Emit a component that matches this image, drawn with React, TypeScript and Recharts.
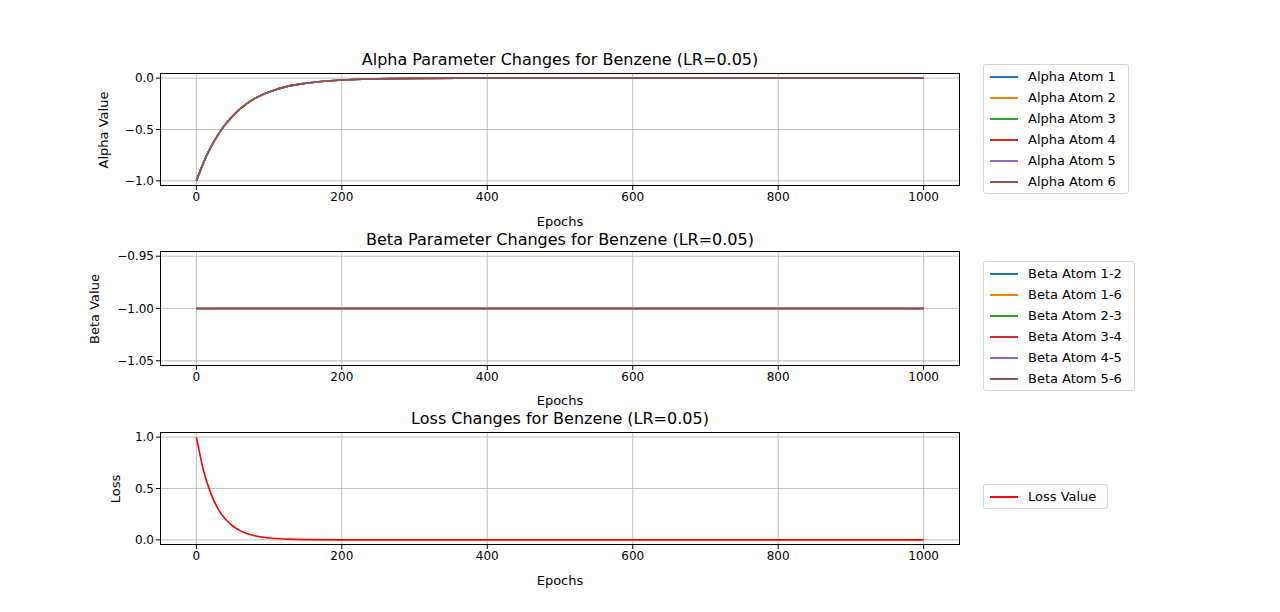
import React from "react";
import { CartesianGrid, Line, LineChart, XAxis, YAxis } from "recharts";

const epochs = [0, 10, 20, 30, 40, 50, 60, 80, 100, 125, 150, 200, 250, 300, 400, 500, 600, 700, 800, 900, 1000];
const alphaValues = [-1, -0.82, -0.67, -0.55, -0.45, -0.37, -0.3, -0.2, -0.135, -0.08, -0.05, -0.018, -0.007, -0.0025, 0, 0, 0, 0, 0, 0, 0];
const betaValues = [-1, -1, -1, -1, -1, -1, -1, -1, -1, -1, -1, -1, -1, -1, -1, -1, -1, -1, -1, -1, -1];
const lossValues = [1, 0.67, 0.45, 0.3, 0.2, 0.135, 0.09, 0.04, 0.018, 0.007, 0.0025, 0.0003, 0.00005, 0, 0, 0, 0, 0, 0, 0, 0];

const alphaNames = ["Alpha Atom 1", "Alpha Atom 2", "Alpha Atom 3", "Alpha Atom 4", "Alpha Atom 5", "Alpha Atom 6"];
const betaNames = ["Beta Atom 1-2", "Beta Atom 1-6", "Beta Atom 2-3", "Beta Atom 3-4", "Beta Atom 4-5", "Beta Atom 5-6"];
const colors = ["#1f77b4", "#ff7f0e", "#2ca02c", "#d62728", "#9467bd", "#8c564b"];

const xTicks = [0, 200, 400, 600, 800, 1000];
const alphaTicks = [-1, -0.5, 0];
const betaTicks = [-1.05, -1.0, -0.95];
const lossTicks = [0, 0.5, 1];

const font = "DejaVu Sans, sans-serif";
const fmt = (d: number) => (v: number) => v.toFixed(d).replace("-", "\u2212");

const rows = epochs.map((e, i) => {
  const r: Record<string, number> = { epoch: e, loss: lossValues[i] };
  alphaNames.forEach((n) => (r[n] = alphaValues[i]));
  betaNames.forEach((n) => (r[n] = betaValues[i]));
  return r;
});

function Panel(props: {
  top: number; bottom: number; domain: [number, number]; ticks: number[]; digits: number;
  keys: string[]; keyColors: string[];
}) {
  const { top, bottom, domain, ticks, digits, keys, keyColors } = props;
  return (
    <div style={{ position: "absolute", left: 0, top: 0 }}>
      <LineChart width={1280} height={612} data={rows}
        margin={{ top, bottom: 612 - bottom - 30, left: 100, right: 320 }}>
        <CartesianGrid stroke="#b0b0b0" strokeWidth={0.8} horizontalValues={ticks} verticalValues={xTicks} />
        <XAxis dataKey="epoch" type="number" domain={[-50, 1050]} ticks={xTicks} height={30}
          axisLine={false} tickSize={4} tickLine={{ stroke: "#000" }}
          tick={{ fill: "#000", fontSize: 12, fontFamily: font }} />
        <YAxis type="number" domain={domain} ticks={ticks} width={60} allowDataOverflow
          axisLine={false} tickSize={4} tickLine={{ stroke: "#000" }} tickFormatter={fmt(digits)}
          tick={{ fill: "#000", fontSize: 12, fontFamily: font }} />
        {keys.map((k, i) => (
          <Line key={k} dataKey={k} type="monotone" stroke={keyColors[i]} strokeWidth={1.6}
            dot={false} isAnimationActive={false} />
        ))}
      </LineChart>
      <div style={{ position: "absolute", left: 160, top, width: 800, height: bottom - top,
        border: "1px solid #000", boxSizing: "border-box" }} />
    </div>
  );
}

function Legend(props: { left: number; top: number; width: number; names: string[]; cols: string[] }) {
  return (
    <div style={{ position: "absolute", left: props.left, top: props.top, width: props.width,
      border: "1px solid #d5d5d5", borderRadius: 3, padding: "1px 0", background: "#fff", fontSize: 13, fontFamily: font }}>
      {props.names.map((n, i) => (
        <div key={n} style={{ height: 21, display: "flex", alignItems: "center" }}>
          <div style={{ width: 28, height: 2, background: props.cols[i], marginLeft: 6, marginRight: 10 }} />
          <span>{n}</span>
        </div>
      ))}
    </div>
  );
}

const Text = (p: { x: number; y: number; s: number; t: string; rot?: boolean }) => (
  <div style={{ position: "absolute", left: p.x, top: p.y, fontSize: p.s, fontFamily: font, whiteSpace: "nowrap",
    transform: `translate(-50%, -50%)${p.rot ? " rotate(-90deg)" : ""}` }}>{p.t}</div>
);

export default function App() {
  return (
    <div style={{ position: "fixed", left: 0, top: 0, width: 1280, height: 612, background: "#fff" }}>
      <Panel top={73} bottom={186} domain={[-1.05, 0.05]} ticks={alphaTicks} digits={1} keys={alphaNames} keyColors={colors} />
      <Panel top={251} bottom={366} domain={[-1.055, -0.945]} ticks={betaTicks} digits={2} keys={betaNames} keyColors={colors} />
      <Panel top={432} bottom={545} domain={[-0.05, 1.05]} ticks={lossTicks} digits={1} keys={["loss"]} keyColors={["#ff0000"]} />
      <Text x={560} y={59} s={16} t="Alpha Parameter Changes for Benzene (LR=0.05)" />
      <Text x={560} y={239} s={16} t="Beta Parameter Changes for Benzene (LR=0.05)" />
      <Text x={560} y={418} s={16} t="Loss Changes for Benzene (LR=0.05)" />
      <Text x={560} y={221} s={13} t="Epochs" />
      <Text x={560} y={400} s={13} t="Epochs" />
      <Text x={560} y={580} s={13} t="Epochs" />
      <Text x={103} y={130} s={13} t="Alpha Value" rot />
      <Text x={94} y={309} s={13} t="Beta Value" rot />
      <Text x={115} y={489} s={13} t="Loss" rot />
      <Legend left={983} top={64} width={144} names={alphaNames} cols={colors} />
      <Legend left={983} top={261} width={150} names={betaNames} cols={colors} />
      <Legend left={983} top={484} width={123} names={["Loss Value"]} cols={["#ff0000"]} />
    </div>
  );
}
